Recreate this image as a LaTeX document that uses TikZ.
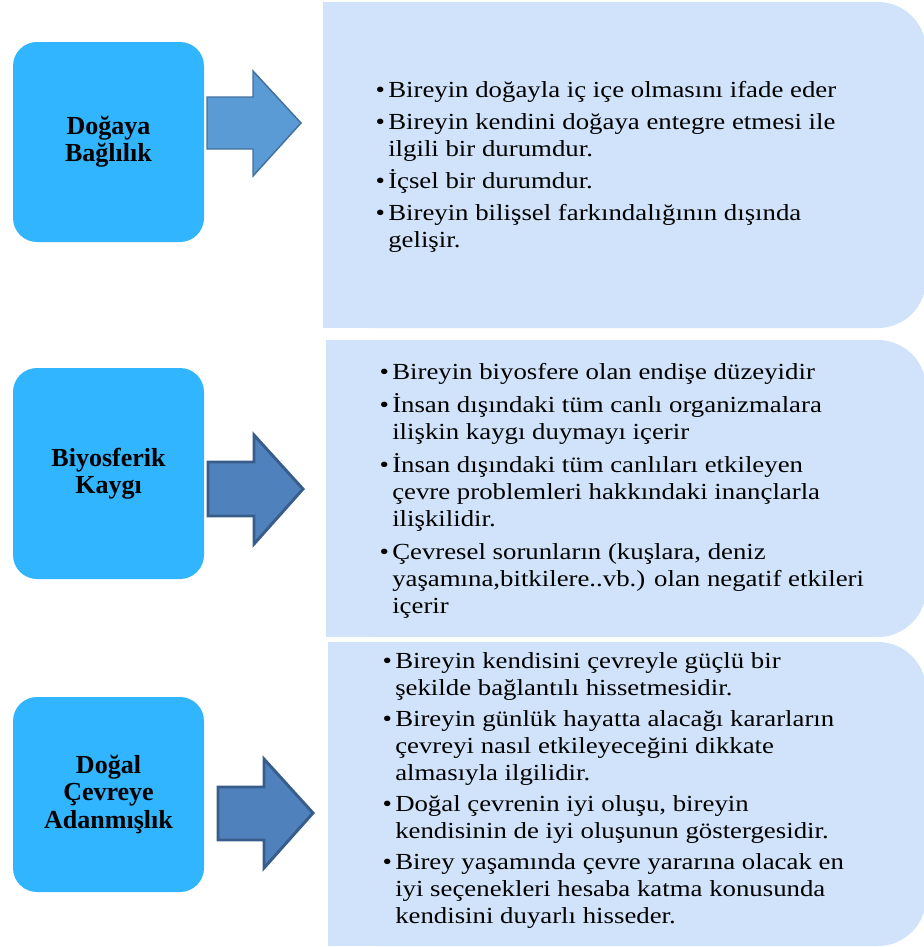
\documentclass[tikz,border=0pt]{standalone}
\usepackage{fontspec}
\setmainfont{Liberation Serif}
\newfontfamily\bodyface[FakeStretch=1.165]{Liberation Serif}
\newfontfamily\titleface{Liberation Serif}

\definecolor{topicblue}{HTML}{31B5FE}
\definecolor{panelblue}{HTML}{D0E3FA}
\definecolor{arrowlight}{HTML}{5B9BD5}
\definecolor{arrowlightedge}{HTML}{41719C}
\definecolor{arrowdark}{HTML}{4F81BD}
\definecolor{arrowdarkedge}{HTML}{385D8A}

% bullet hanging to the left of an item's first line
\newcommand\bul{\llap{\textbullet\hspace{2.5pt}}}
% one printed line of a panel
\newcommand\tline[1]{\hbox{#1}}
% stack of lines with fixed baselines; the first line carries the baseline
\newcommand\lineset[1]{\vtop{\baselineskip=20.25pt\lineskiplimit=-100pt\lineskip=0pt #1}}

\begin{document}
\begin{tikzpicture}[x=0.75pt,y=-0.75pt,
  topic/.style={fill=topicblue, rounded corners=18pt, inner sep=0pt,
    minimum width=143.25pt, align=center,
    font=\titleface\bfseries\fontsize{19.5}{20.5}\selectfont},
  panel/.style={fill=panelblue},
  bodytext/.style={anchor=base west, inner sep=0pt,
    font=\bodyface\fontsize{17.25}{20.25}\selectfont},
  lightarrow/.style={fill=arrowlight, draw=arrowlightedge, line width=1.1pt, line join=miter},
  darkarrow/.style={fill=arrowdark, draw=arrowdarkedge, line width=2.2pt, line join=miter}]
\useasboundingbox (0,0) rectangle (924,947);

% right-hand panels: right corners rounded, left corners square
\fill[panel, rounded corners=36pt] (323,2) rectangle (926,328);
\fill[panel] (323,2) rectangle (700,328);
\fill[panel, rounded corners=36pt] (326,340) rectangle (926,637);
\fill[panel] (326,340) rectangle (700,637);
\fill[panel, rounded corners=36pt] (328,642) rectangle (926,946);
\fill[panel] (328,642) rectangle (700,946);

% topic boxes
\node[topic, minimum height=150pt] (dogaya) at (108.5,142) {Doğaya\\Bağlılık};
\node[topic, minimum height=158.25pt] (biyo) at (108.5,473.5) {Biyosferik\\Kaygı};
\node[topic, minimum height=146.25pt] (adanma) at (108.5,794.5) {Doğal\\Çevreye\\Adanmışlık};

% block arrows
\draw[lightarrow] (207,97) -- (253,97) -- (253,71) -- (301,123) -- (253,176) -- (253,149) -- (207,149) -- cycle;
\draw[darkarrow] (208,462) -- (254,462) -- (254,435) -- (303,489) -- (254,544) -- (254,516) -- (208,516) -- cycle;
\draw[darkarrow] (218,787) -- (264,787) -- (264,759) -- (313,813) -- (264,868) -- (264,840) -- (218,840) -- cycle;

% panel texts
\node[bodytext] (text1) at (388,97) {\lineset{%
  \tline{\bul Bireyin doğayla iç içe olmasını ifade eder}\vskip3.75pt
  \tline{\bul Bireyin kendini doğaya entegre etmesi ile}
  \tline{ilgili bir durumdur.}\vskip3.75pt
  \tline{\bul İçsel bir durumdur.}\vskip3.75pt
  \tline{\bul Bireyin bilişsel farkındalığının dışında}
  \tline{gelişir.}}};

\node[bodytext] (text2) at (392,379) {\lineset{%
  \tline{\bul Bireyin biyosfere olan endişe düzeyidir}\vskip4.5pt
  \tline{\bul İnsan dışındaki tüm canlı organizmalara}
  \tline{ilişkin kaygı duymayı içerir}\vskip4.5pt
  \tline{\bul İnsan dışındaki tüm canlıları etkileyen}
  \tline{çevre problemleri hakkındaki inançlarla}
  \tline{ilişkilidir.}\vskip4.5pt
  \tline{\bul Çevresel sorunların (kuşlara, deniz}
  \tline{yaşamına,bitkilere..vb.) olan negatif etkileri}
  \tline{içerir}}};

\node[bodytext] (text3) at (395,668) {\lineset{%
  \tline{\bul Bireyin kendisini çevreyle güçlü bir}
  \tline{şekilde bağlantılı hissetmesidir.}\vskip3pt
  \tline{\bul Bireyin günlük hayatta alacağı kararların}
  \tline{çevreyi nasıl etkileyeceğini dikkate}
  \tline{almasıyla ilgilidir.}\vskip3pt
  \tline{\bul Doğal çevrenin iyi oluşu, bireyin}
  \tline{kendisinin de iyi oluşunun göstergesidir.}\vskip3pt
  \tline{\bul Birey yaşamında çevre yararına olacak en}
  \tline{iyi seçenekleri hesaba katma konusunda}
  \tline{kendisini duyarlı hisseder.}}};
\end{tikzpicture}
\end{document}
